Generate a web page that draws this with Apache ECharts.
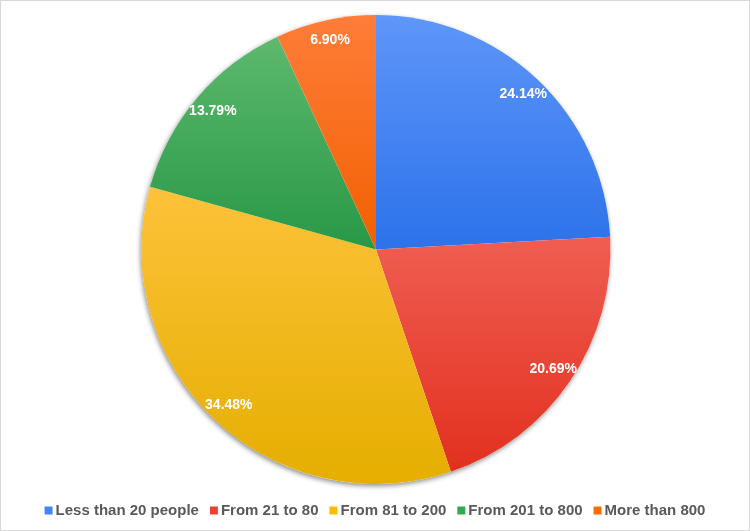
<!DOCTYPE html>
<html><head><meta charset="utf-8">
<script src="https://cdn.jsdelivr.net/npm/echarts@6/dist/echarts.min.js"></script>
<style>
html,body{margin:0;padding:0;background:#fff;}
#c{width:750px;height:531px;box-sizing:border-box;border:1px solid #d9d9d9;}
</style></head>
<body><div id="c"></div>
<script>
const categories = ['Less than 20 people','From 21 to 80','From 81 to 200','From 201 to 800','More than 800'];
const values = [7, 6, 10, 4, 2];
const topColors = ['#5f96f9','#ef5e52','#fdc23a','#5db96e','#ff7d3a'];
const bottomColors = ['#2c72ea','#e2301f','#e5ae00','#289846','#f16000'];
const baseColors = ['#4285f4','#ea4335','#fbbc04','#34a853','#ff6d01'];

const total = values.reduce((a,b)=>a+b,0);
const chart = echarts.init(document.getElementById('c'));
const grad = i => new echarts.graphic.LinearGradient(0,0,0,1,[{offset:0,color:topColors[i]},{offset:1,color:bottomColors[i]}]);
const R = 234.5;
const C = [375, 248.5];
chart.setOption({
  animation:false,
  legend:{
    bottom: 7, left:'center',
    icon:'rect', itemWidth:8, itemHeight:8, itemGap:11,
    textStyle:{fontFamily:'Liberation Sans, Arial', fontWeight:'bold', fontSize:15, color:'#595959', padding:[0,0,0,-2]},
    data: categories.map((n,i)=>({name:n, itemStyle:{color:baseColors[i]}}))
  },
  series:[
    {
      type:'pie', center:C, radius:[0, R], silent:true, z:1,
      label:{show:false}, labelLine:{show:false},
      itemStyle:{color:'#fff', shadowBlur:5, shadowColor:'rgba(0,0,0,0.45)', shadowOffsetX:-1, shadowOffsetY:2},
      emphasis:{disabled:true}, legendHoverLink:false,
      data:[{name:'_bg', value:1}]
    },
    {
      type:'pie', center:C, radius:[0, R], startAngle:90, clockwise:true, z:2,
      label:{show:false}, labelLine:{show:false},
      emphasis:{disabled:true},
      data: categories.map((n,i)=>({name:n, value:values[i], itemStyle:{color:grad(i)}}))
    },
    {
      type:'pie', center:C, radius:[R*0.8, R], startAngle:90, clockwise:true, silent:true, z:3,
      itemStyle:{color:'rgba(0,0,0,0)'},
      label:{show:true, position:'inside', color:'#fff', fontFamily:'Liberation Sans, Arial', fontWeight:'bold', fontSize:14,
        formatter: p => (p.value/total*100).toFixed(2)+'%'},
      labelLine:{show:false},
      emphasis:{disabled:true},
      legendHoverLink:false,
      data: categories.map((n,i)=>({name:n+' ', value:values[i]}))
    }
  ]
});
</script></body></html>
